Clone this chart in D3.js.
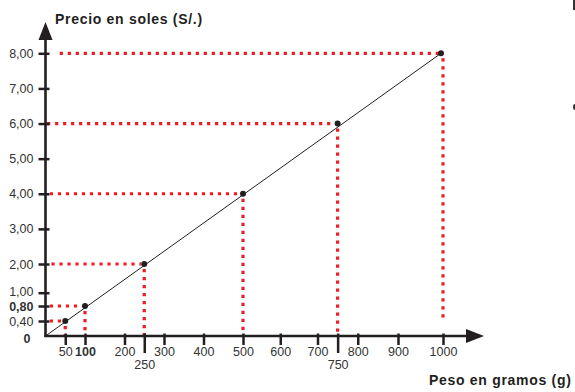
<!DOCTYPE html>
<html>
<head>
<meta charset="utf-8">
<script src="https://cdn.jsdelivr.net/npm/d3@7/dist/d3.min.js"></script>
<style>
  html, body { margin: 0; padding: 0; background: #fff; }
  svg { display: block; font-family: "Liberation Sans", Arial, sans-serif; }
</style>
</head>
<body>
<svg id="chart" width="575" height="392"></svg>
<script>
// ---- data ----
const pesos   = [50, 100, 250, 500, 750, 1000];          // g
const precios = [0.40, 0.80, 2.00, 4.00, 6.00, 8.00];    // S/.
const guideStart = [11, 11, 15, 11, 4, 36];   // where horizontal guides begin (g)
const guideEnd   = [0, 0, 0, 0, 0, 0.45];     // where vertical guides end (S/.)
const xTicks = [50, 100, 200, 250, 300, 400, 500, 600, 700, 750, 800, 900, 1000];
const xTicksLow = [250, 750];
const xTicksBold = [100];
const yTicks = [0.40, 0.80, 1, 2, 3, 4, 5, 6, 7, 8];
const yTicksBold = [0.80];
const yTitle = "Precio en soles (S/.)";
const xTitle = "Peso en gramos (g)";

const svg = d3.select("#chart");
const ink = "#231f20", red = "#ed1c24", labelCol = "#333";

// the printed axes are not perfectly uniform: piecewise-linear scales follow them
const x = d3.scaleLinear().domain([0, 500, 700, 900, 1000]).range([45.5, 243, 317.5, 398, 443]);
const y = d3.scaleLinear().domain([0, 0.8, 1, 2, 8]).range([336, 306, 292.7, 264, 53.3]);
const fmt = v => v.toFixed(2).replace(".", ",");

// guides
const g = svg.append("g");
pesos.forEach((p, i) => {
  g.append("line")
    .attr("x1", x(guideStart[i])).attr("x2", x(p) - 3)
    .attr("y1", y(precios[i])).attr("y2", y(precios[i]))
    .attr("stroke", red).attr("stroke-width", 3.2)
    .attr("stroke-dasharray", "3.2,4.8");
  g.append("line")
    .attr("x1", x(p)).attr("x2", x(p))
    .attr("y1", y(precios[i]) + 5).attr("y2", y(guideEnd[i]))
    .attr("stroke", red).attr("stroke-width", 3.2)
    .attr("stroke-dasharray", "3.2,4.8");
});

// line from origin
svg.append("line")
  .attr("x1", x(0)).attr("y1", y(0))
  .attr("x2", x(pesos[pesos.length - 1]) - 2).attr("y2", y(precios[precios.length - 1]))
  .attr("stroke", ink).attr("stroke-width", 1);

// axes
const yAxis = svg.append("g").attr("transform", `translate(${x(0)},0)`)
  .call(d3.axisLeft(y).tickValues(yTicks).tickFormat(fmt).tickSizeOuter(0));
yAxis.select(".domain").remove();
yAxis.selectAll(".tick line").attr("x1", -7).attr("x2", 4)
  .attr("stroke", ink).attr("stroke-width", 2.5);
yAxis.selectAll(".tick text").attr("x", -12)
  .attr("dy", d => d === 1 ? "0.22em" : d === 0.8 ? "0.38em" : "0.32em")
  .attr("fill", labelCol).style("font-size", "12.5px")
  .style("font-weight", d => yTicksBold.includes(d) ? "bold" : "normal");

const xAxis = svg.append("g").attr("transform", `translate(0,${y(0)})`)
  .call(d3.axisBottom(x).tickValues(xTicks).tickFormat(d => String(d)).tickSizeOuter(0));
xAxis.select(".domain").remove();
xAxis.selectAll(".tick line")
  .attr("y1", -2.5).attr("y2", d => xTicksLow.includes(d) ? 17 : 9)
  .attr("stroke", ink).attr("stroke-width", 2.5);
xAxis.selectAll(".tick text")
  .attr("y", d => xTicksLow.includes(d) ? 24 : 11)
  .attr("fill", labelCol).style("font-size", "12.5px")
  .style("font-weight", d => xTicksBold.includes(d) ? "bold" : "normal");

// zero label
svg.append("text").attr("x", 27).attr("y", y(0) + 7)
  .attr("text-anchor", "middle").attr("fill", labelCol)
  .style("font-size", "12.5px").style("font-weight", "bold").text("0");

// axis lines with arrows
svg.append("line").attr("x1", x(0)).attr("x2", x(0)).attr("y1", y(0) + 1).attr("y2", 38)
  .attr("stroke", ink).attr("stroke-width", 2.6);
svg.append("path").attr("d", `M${x(0)},22 L${x(0) + 7},40 L${x(0) - 7},40 Z`).attr("fill", ink);
svg.append("line").attr("x1", x(0) - 1).attr("x2", 469).attr("y1", y(0)).attr("y2", y(0))
  .attr("stroke", ink).attr("stroke-width", 2.6);
svg.append("path").attr("d", `M484,${y(0)} L466,${y(0) - 7} L466,${y(0) + 7} Z`).attr("fill", ink);

// points
svg.selectAll("circle.pt").data(pesos).join("circle").attr("class", "pt")
  .attr("cx", (d) => x(d) - (d === 1000 ? 2 : 0)).attr("cy", (d, i) => y(precios[i]))
  .attr("r", 3).attr("fill", ink);

// titles
svg.append("text").attr("x", 55).attr("y", 24).attr("fill", ink)
  .style("font-size", "14px").style("font-weight", "bold").style("letter-spacing", "0.7px").text(yTitle);
svg.append("text").attr("x", 429).attr("y", 385).attr("fill", ink)
  .style("font-size", "14px").style("font-weight", "bold").style("letter-spacing", "0.7px").text(xTitle);

// edge fragments from the source page
svg.append("rect").attr("x", 573).attr("y", 0).attr("width", 2).attr("height", 10).attr("fill", "#333");
svg.append("ellipse").attr("cx", 575).attr("cy", 107).attr("rx", 2).attr("ry", 3).attr("fill", "#333");
</script>
</body>
</html>
